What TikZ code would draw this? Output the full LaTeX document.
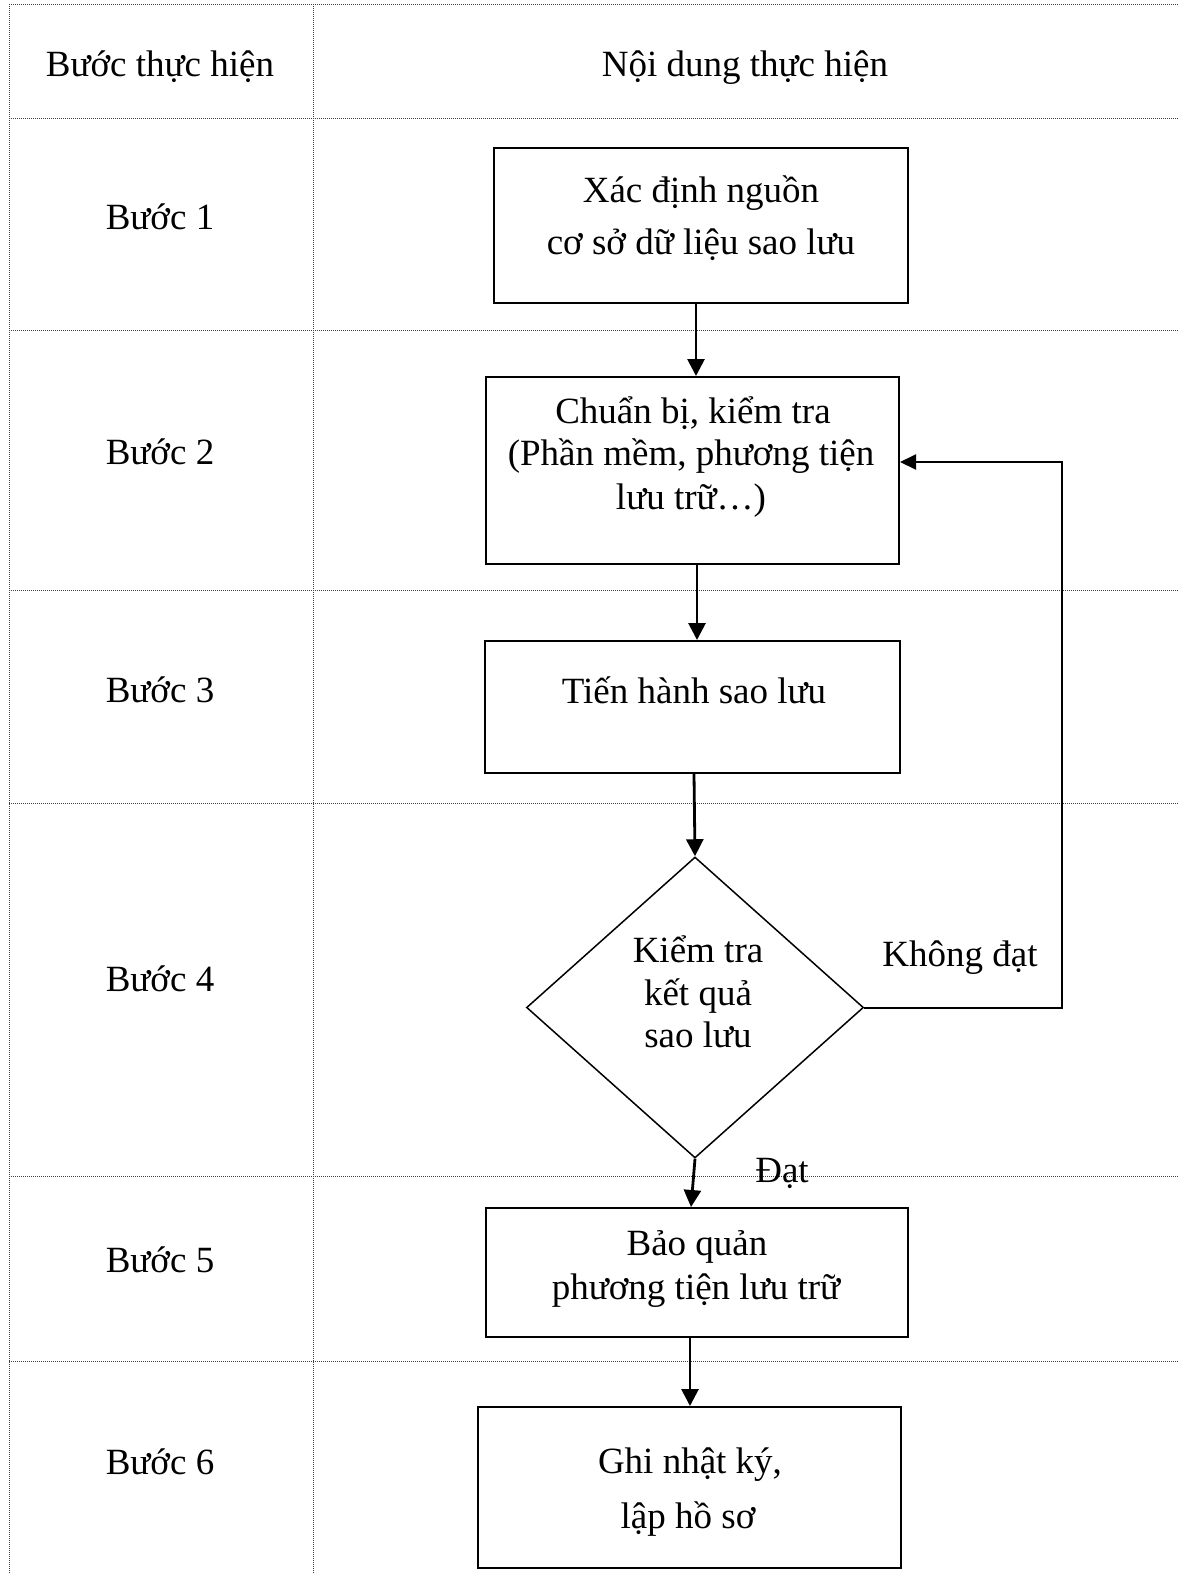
\documentclass[tikz,border=0pt]{standalone}
\usepackage{fontspec}
\setmainfont{Liberation Serif}
\usetikzlibrary{arrows.meta,shapes.geometric}
\begin{document}
\begin{tikzpicture}[x=1pt,y=-1pt,
  grid/.style={line width=0.9pt, black!75, dash pattern=on 1pt off 1pt},
  box/.style={draw, line width=2pt, rectangle, inner sep=0pt},
  txt/.style={font=\fontsize{37}{44}\selectfont, anchor=base, inner sep=0pt},
  conn/.style={line width=2.8pt, -{Triangle[length=17pt,width=17pt]}},
  fb/.style={line width=2pt, -{Triangle[length=16pt,width=15pt]}},
]
\useasboundingbox (0,0) rectangle (1178,1574);
\fill[white] (0,0) rectangle (1178,1574);
% table grid
\foreach \yy in {4,118,330,590,803,1176,1361} {\draw[grid] (9,\yy) -- (1178,\yy);}
\draw[grid] (9,4) -- (9,1574);
\draw[grid] (313,4) -- (313,1574);
% header
\node[txt] (h1) at (160,76) {Bước thực hiện};
\node[txt] (h2) at (745,76) {Nội dung thực hiện};
% step labels
\node[txt] (s1) at (160,229) {Bước 1};
\node[txt] (s2) at (160,464) {Bước 2};
\node[txt] (s3) at (160,702) {Bước 3};
\node[txt] (s4) at (160,991) {Bước 4};
\node[txt] (s5) at (160,1272) {Bước 5};
\node[txt] (s6) at (160,1474) {Bước 6};
% boxes
\node[box, minimum width=414pt, minimum height=155pt] (b1) at (701,225.5) {};
\node[box, minimum width=413pt, minimum height=187pt] (b2) at (692.5,470.5) {};
\node[box, minimum width=415pt, minimum height=132pt] (b3) at (692.5,707) {};
\node[draw, diamond, line width=1.5pt, inner sep=0pt, minimum width=337pt, minimum height=301pt] (d) at (695,1007.5) {};
\node[box, minimum width=422pt, minimum height=129pt] (b5) at (697,1272.5) {};
\node[box, minimum width=423pt, minimum height=161pt] (b6) at (689.5,1487.5) {};
% box texts
\node[txt] (t1a) at (701,202) {Xác định nguồn};
\node[txt] (t1b) at (701,254) {cơ sở dữ liệu sao lưu};
\node[txt] (t2a) at (693,423) {Chuẩn bị, kiểm tra};
\node[txt] (t2b) at (691,465) {(Phần mềm, phương tiện};
\node[txt] (t2c) at (691,509) {lưu trữ…)};
\node[txt] (t3) at (694,703) {Tiến hành sao lưu};
\node[txt] (t4a) at (698,962) {Kiểm tra};
\node[txt] (t4b) at (698,1005) {kết quả};
\node[txt] (t4c) at (698,1047) {sao lưu};
\node[txt] (t5a) at (697,1255) {Bảo quản};
\node[txt] (t5b) at (696,1299) {phương tiện lưu trữ};
\node[txt] (t6a) at (690,1473) {Ghi nhật ký,};
\node[txt] (t6b) at (688,1528) {lập hồ sơ};
% connectors
\draw[conn] (b1.south -| 696,0) -- (b2.north -| 696,0);
\draw[conn] (b2.south -| 697,0) -- (b3.north -| 697,0);
\draw[conn] (b3.south -| 694,0) -- (d.north);
\draw[conn] (d.south) -- (b5.north -| 691,0);
\draw[conn] (b5.south -| 690,0) -- (b6.north -| 690,0);
\coordinate (fbk) at (1062,462);
\draw[fb] (d.east) -| (fbk) -- (b2.east |- fbk);
% branch labels
\node[txt] (lno) at (960,966) {Không đạt};
\node[txt] (lyes) at (782,1182) {Đạt};
\end{tikzpicture}
\end{document}
